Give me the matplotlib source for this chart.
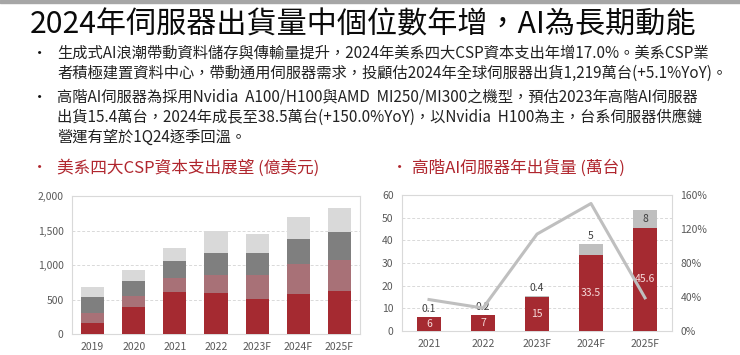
import matplotlib
matplotlib.use("Agg")
import matplotlib.pyplot as plt
from matplotlib.patches import Rectangle
import numpy as np

plt.rcParams['font.family'] = ['Noto Sans CJK TC', 'DejaVu Sans']

title = "2024年伺服器出貨量中個位數年增，AI為長期動能"
body_lines = [
    "生成式AI浪潮帶動資料儲存與傳輸量提升，2024年美系四大CSP資本支出年增17.0%。美系CSP業",
    "者積極建置資料中心，帶動通用伺服器需求，投顧估2024年全球伺服器出貨1,219萬台(+5.1%YoY)。",
    "高階AI伺服器為採用Nvidia  A100/H100與AMD  MI250/MI300之機型，預估2023年高階AI伺服器",
    "出貨15.4萬台，2024年成長至38.5萬台(+150.0%YoY)，以Nvidia  H100為主，台系伺服器供應鏈",
    "營運有望於1Q24逐季回溫。",
]
bullet_starts = [True, False, True, False, False]
left_header = "美系四大CSP資本支出展望 (億美元)"
right_header = "高階AI伺服器年出貨量 (萬台)"

# Left chart data (億美元), stacked segments
capex_years = ["2019", "2020", "2021", "2022", "2023F", "2024F", "2025F"]
capex_s1 = [164, 396, 604, 599, 512, 580, 628]
capex_s2 = [140, 155, 203, 261, 343, 430, 449]
capex_s3 = [232, 222, 251, 309, 314, 362, 396]
capex_s4 = [150, 155, 188, 329, 280, 328, 358]
capex_ticks = [0, 500, 1000, 1500, 2000]
capex_ticklabels = ["0", "500", "1,000", "1,500", "2,000"]

# Right chart data (萬台)
ai_years = ["2021", "2022", "2023F", "2024F", "2025F"]
ai_base = [6, 7, 15, 33.5, 45.6]
ai_top = [0.1, 0.2, 0.4, 5, 8]
ai_base_labels = ["6", "7", "15", "33.5", "45.6"]
ai_top_labels = ["0.1", "0.2", "0.4", "5", "8"]
ai_yoy = [37, 27, 114, 150, 39]  # %
ai_ticks = [0, 10, 20, 30, 40, 50, 60]
yoy_ticks = [0, 40, 80, 120, 160]

RED = "#A52A31"
PINK = "#A87177"
DGRAY = "#7F7F7F"
LGRAY = "#D9D9D9"
TICKC = "#595959"
HDR = "#B0262E"

W, H = 740, 355
fig = plt.figure(figsize=(W / 100, H / 100), dpi=100)

def fx(x):
    return x / W

def fy(y):
    return 1 - y / H

# top gray strip
fig.patches.append(Rectangle((0, fy(3)), 1, 3 / H, transform=fig.transFigure,
                             color="#A6A6A6", zorder=0))

fig.text(fx(30), fy(25), title, fontsize=21.7, va="center", ha="left", color="#0A0A0A",
         fontweight="medium")

ys = [53, 73, 97, 117, 137]
for y, line, b in zip(ys, body_lines, bullet_starts):
    if b:
        fig.text(fx(32), fy(y), "•", fontsize=11, va="center", ha="left", color="#111111")
    fig.text(fx(57), fy(y), line, fontsize=11.0, va="center", ha="left", color="#222222")

fig.text(fx(32), fy(168), "•", fontsize=11, va="center", ha="left", color=HDR)
fig.text(fx(57), fy(168), left_header, fontsize=12, va="center", ha="left", color=HDR)
fig.text(fx(392), fy(168), "•", fontsize=11, va="center", ha="left", color=HDR)
fig.text(fx(412), fy(168), right_header, fontsize=12, va="center", ha="left", color=HDR)

# ---------------- Left chart ----------------
ax1 = fig.add_axes([fx(72), fy(334), fx(360) - fx(72), (334 - 196) / H])
x = np.arange(len(capex_years))
bw = 0.56
b1 = np.array(capex_s1, float)
b2 = b1 + np.array(capex_s2)
b3 = b2 + np.array(capex_s3)
ax1.bar(x, capex_s1, bw, color=RED, zorder=3)
ax1.bar(x, capex_s2, bw, bottom=b1, color=PINK, zorder=3)
ax1.bar(x, capex_s3, bw, bottom=b2, color=DGRAY, zorder=3)
ax1.bar(x, capex_s4, bw, bottom=b3, color=LGRAY, zorder=3)
ax1.set_xlim(-0.5, len(capex_years) - 0.5)
ax1.set_ylim(0, 2000)
ax1.set_yticks(capex_ticks)
ax1.set_yticklabels(capex_ticklabels)
ax1.set_xticks(x)
ax1.set_xticklabels(capex_years)
ax1.tick_params(length=0, labelsize=7.5, colors=TICKC, pad=6)
ax1.grid(axis="y", color="#D9D9D9", linestyle=(0, (3, 2)), linewidth=0.7, zorder=0)
for s in ax1.spines.values():
    s.set_color("#D9D9D9")
    s.set_linewidth(0.8)

# ---------------- Right chart ----------------
ax2 = fig.add_axes([fx(402), fy(331), fx(672) - fx(402), (331 - 195) / H])
x2 = np.arange(len(ai_years))
bw2 = 0.46
ax2.bar(x2, ai_base, bw2, color=RED, zorder=3)
ax2.bar(x2, ai_top, bw2, bottom=ai_base, color="#BFBFBF", zorder=3)
ax2.set_xlim(-0.5, len(ai_years) - 0.5)
ax2.set_ylim(0, 60)
ax2.set_yticks(ai_ticks)
ax2.set_xticks(x2)
ax2.set_xticklabels(ai_years)
ax2.tick_params(length=0, labelsize=7.5, colors=TICKC, pad=6)
ax2.grid(axis="y", color="#D9D9D9", linestyle=(0, (3, 2)), linewidth=0.7, zorder=0)
for s in ax2.spines.values():
    s.set_color("#D9D9D9")
    s.set_linewidth(0.8)

for xi, b, lab in zip(x2, ai_base, ai_base_labels):
    ax2.text(xi, b / 2, lab, ha="center", va="center", fontsize=7.5,
             color="#F6DADA", zorder=6)
for xi, b, t, lab in zip(x2, ai_base, ai_top, ai_top_labels):
    if t >= 6:
        ax2.text(xi, b + t / 2, lab, ha="center", va="center", fontsize=7.5,
                 color="#404040", zorder=6)
    else:
        ax2.annotate(lab, (xi, b + t), xytext=(0, 2), textcoords="offset points",
                     ha="center", va="bottom", fontsize=7.5, color="#404040", zorder=6)

ax3 = ax2.twinx()
ax3.plot(x2, ai_yoy, color="#BFBFBF", linewidth=2.2, zorder=5)
ax3.set_ylim(0, 160)
ax3.set_yticks(yoy_ticks)
ax3.set_yticklabels([f"{v}%" for v in yoy_ticks])
ax3.tick_params(length=0, labelsize=7.5, colors=TICKC, pad=6)
for s in ax3.spines.values():
    s.set_visible(False)
ax3.set_zorder(ax2.get_zorder() + 1)
ax3.patch.set_visible(False)

fig.savefig("out.png", dpi=100)
